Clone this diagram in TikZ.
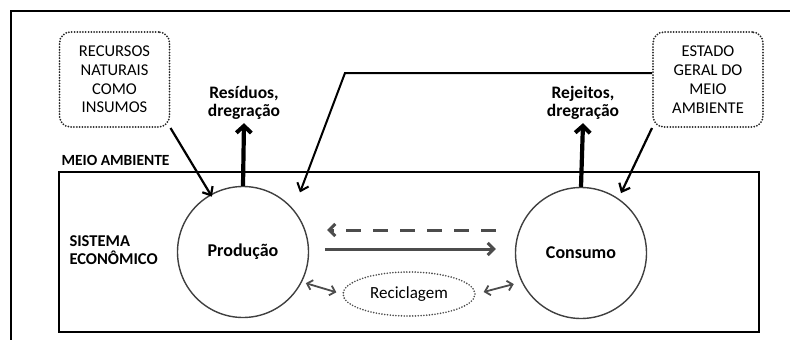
\documentclass[tikz,border=0pt]{standalone}
\usepackage{fontspec}
\setmainfont{Carlito}
\usetikzlibrary{arrows.meta, positioning, shapes.geometric}

\begin{document}
\begin{tikzpicture}[
    x=1pt, y=-1pt,
    % Node styles
    notebox/.style={
        rectangle,
        rounded corners=11pt,
        draw=black!85,
        line width=2pt,
        dash pattern=on 0pt off 2.8pt,
        line cap=round,
        minimum width=110pt,
        minimum height=95pt,
        font=\fontsize{16.5}{18.8}\selectfont,
        align=center
    },
    sector/.style={
        circle,
        draw=black!75,
        line width=1.4pt,
        minimum size=131pt,
        font=\fontsize{18}{20}\bfseries
    },
    outlabel/.style={
        font=\fontsize{17.5}{18}\bfseries,
        align=center
    },
    inlabel/.style={
        font=\fontsize{16.5}{18.5}\bfseries,
        align=left,
        anchor=west
    },
    heavyarrow/.style={
        -{Straight Barb[length=7pt, width=15pt, line width=4pt]},
        line width=4.2pt
    },
    thinarrow/.style={
        -{Straight Barb[length=7pt, width=12pt, line width=2.2pt]},
        line width=2.2pt
    },
    flowarrow/.style={
        -{Straight Barb[length=6pt, width=12pt, line width=3pt]},
        line width=3pt,
        black!70
    },
    loop/.style={
        {Straight Barb[length=5pt, width=10pt, line width=1.8pt]}-{Straight Barb[length=5pt, width=10pt, line width=1.8pt]},
        line width=1.8pt,
        black!70
    }
]
\useasboundingbox (0,0) rectangle (790,340);

% === Frames ===
\draw[line width=2pt] (11,340) -- (11,11) -- (790,11);
\draw[line width=2.4pt] (59,172) rectangle (759,332);
\node[inlabel, font=\fontsize{15.5}{18}\bfseries] (meio) at (58,160) {MEIO AMBIENTE};
\node[inlabel] (sist) at (66,250) {SISTEMA\\ECONÔMICO};

% === Sectors ===
\node[sector] (prod) at (243,252) {Produção};
\node[sector] (cons) at (581,253) {Consumo};
\node[ellipse, draw=black!70, line width=1.8pt, dash pattern=on 0pt off 2.8pt,
      line cap=round, minimum width=132pt, minimum height=44pt,
      font=\fontsize{17}{19}\selectfont] (recl) at (409,294) {Reciclagem};

% === Environment boxes ===
\node[notebox] (rec) at (114.5,79.5) {RECURSOS\\NATURAIS\\COMO\\INSUMOS};
\node[notebox] (est) at (708,79.5) {ESTADO\\GERAL DO\\MEIO\\AMBIENTE};

% === Outputs ===
\node[outlabel] (res) at (244,103) {Resíduos,\\dregração};
\node[outlabel] (rej) at (583,103) {Rejeitos,\\dregração};
\draw[heavyarrow] (prod.north) -- (res.south);
\draw[heavyarrow] (cons.north) -- (rej.south);

% === Inputs ===
\coordinate (bend) at (345,73);
\draw[thinarrow] (rec.south east) -- ([shift={(2pt,-2pt)}]prod.120);
\draw[thinarrow] (est.south west) -- ([shift={(3pt,5pt)}]cons.56);
\draw[line width=2pt, -{Straight Barb[length=7pt, width=12pt, line width=2pt]}]
    (est.west |- bend) -- (bend) -- ([shift={(11pt,12pt)}]prod.46);

% === Flows ===
\draw[flowarrow, dash pattern=on 15pt off 12pt, shorten <=19pt, shorten >=18pt]
    ([yshift=23pt]cons.west) -- ([yshift=22pt]prod.east);
\draw[flowarrow, shorten <=16pt, shorten >=19pt]
    ([yshift=3pt]prod.east) -- ([yshift=4pt]cons.west);
\draw[loop, shorten <=4pt, shorten >=6pt] (prod.-27) -- (recl.west);
\draw[loop, shorten <=8pt, shorten >=8pt] (recl.east) -- (cons.206);

\end{tikzpicture}
\end{document}
